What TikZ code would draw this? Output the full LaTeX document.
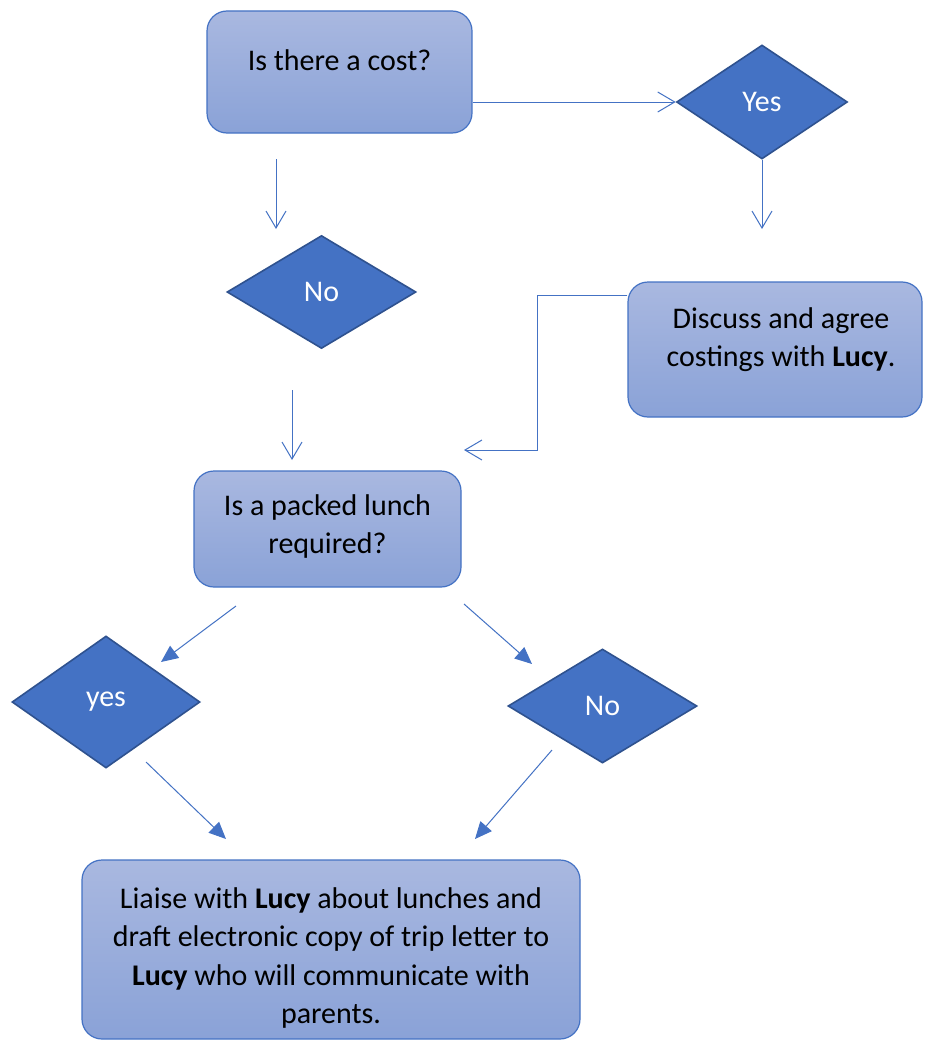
\documentclass[tikz,border=0pt]{standalone}
\usepackage{fontspec}
\setmainfont{Carlito}
\usetikzlibrary{arrows.meta,shapes.geometric}
\definecolor{cline}{HTML}{4472C4}
\definecolor{cdia}{HTML}{4472C4}
\definecolor{cdiab}{HTML}{2F528F}
\definecolor{ctop}{HTML}{A9B8E0}
\definecolor{cbot}{HTML}{8AA2D7}
\newcommand{\boxtext}[5][0pt]{\parbox[c][#3][t]{#2}{\centering\leftskip=#1 plus 1fil\rule{0pt}{#4}#5}}
\begin{document}
\begin{tikzpicture}[x=1pt,y=-1pt,
  font=\fontsize{30}{38.5}\selectfont,
  procbox/.style={draw=cline, line width=1.2pt, rounded corners=20pt,
    top color=ctop, bottom color=cbot, inner sep=0pt},
  decision/.style={diamond, draw=cdiab, line width=1.6pt, fill=cdia,
    text=white, inner sep=0pt},
  openarrow/.style={draw=cline, line width=1pt,
    -{Straight Barb[length=17pt,width=20pt]}},
  solidarrow/.style={draw=cline, line width=1pt,
    -{Triangle[length=17pt,width=15pt]}}]
\fill[white] (0,0) rectangle (924,1041);
\useasboundingbox (0,0) rectangle (924,1041);

% nodes
\node[procbox] (cost) at (339.5,72)
  {\boxtext{265pt}{122pt}{59pt}{Is there a cost?}};
\node[decision, minimum width=171pt, minimum height=114pt] (yes1) at (762,102) {Yes};
\node[decision, minimum width=189pt, minimum height=113pt] (no1) at (321.5,292) {No};
\node[procbox] (disc) at (775,349.5)
  {\boxtext[12pt]{294pt}{135pt}{46pt}{Discuss and agree\\costings with \textbf{Lucy}.}};
\node[procbox] (lunch) at (327.5,529)
  {\boxtext{267pt}{116pt}{44pt}{Is a packed lunch\\required?}};
\node[decision, minimum width=188pt, minimum height=132pt] (yes2) at (106,702) {yes};
\node[decision, minimum width=189pt, minimum height=114pt] (no2) at (602.5,706) {No};
\node[procbox] (act) at (331,949.5)
  {\boxtext{498pt}{179pt}{48pt}{Liaise with \textbf{Lucy} about lunches and\\draft electronic copy of trip letter to\\\textbf{Lucy} who will communicate with\\parents.}};

% free ends
\coordinate (a1) at (762,229);
\coordinate (a2s) at (276,159);
\coordinate (a2e) at (276,229);
\coordinate (a3s) at (292,390);
\coordinate (a3e) at (292,460);
\coordinate (d1) at (537,295);
\coordinate (d2) at (537,450);
\coordinate (d3) at (464,450);
\coordinate (b1s) at (236,606);
\coordinate (b1e) at (161,662);
\coordinate (b2s) at (146,762);
\coordinate (b2e) at (226,839);
\coordinate (b3s) at (464,604);
\coordinate (b3e) at (532,664);
\coordinate (b4s) at (552,750);
\coordinate (b4e) at (475,839);

% connectors
\draw[openarrow] (cost.east |- yes1.west) -- (yes1.west);
\draw[openarrow] (yes1.south) -- (a1);
\draw[openarrow] (a2s) -- (a2e);
\draw[openarrow] (a3s) -- (a3e);
\draw[openarrow] (disc.west |- d1) -- (d1) -- (d2) -- (d3);
\draw[solidarrow] (b1s) -- (b1e);
\draw[solidarrow] (b2s) -- (b2e);
\draw[solidarrow] (b3s) -- (b3e);
\draw[solidarrow] (b4s) -- (b4e);
\end{tikzpicture}
\end{document}
